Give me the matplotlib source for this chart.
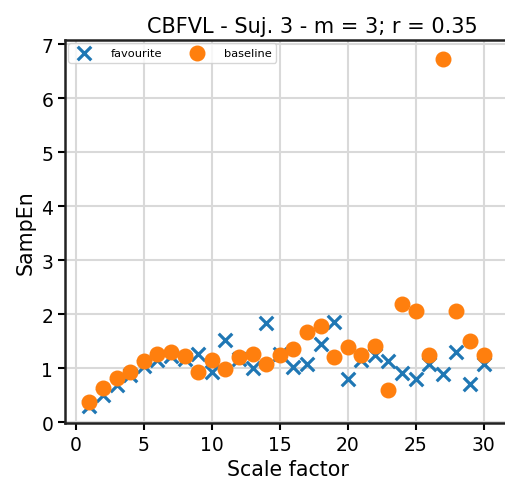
import matplotlib
matplotlib.use("Agg")
import matplotlib.pyplot as plt

scale = list(range(1, 31))
favourite = [0.30, 0.50, 0.69, 0.87, 1.04, 1.15, 1.23, 1.17, 1.26, 0.94,
             1.52, 1.17, 1.00, 1.85, 1.26, 1.02, 1.09, 1.46, 1.86, 0.80,
             1.15, 1.25, 1.14, 0.91, 0.80, 1.08, 0.89, 1.30, 0.72, 1.08]
baseline = [0.38, 0.63, 0.83, 0.94, 1.13, 1.26, 1.31, 1.23, 0.94, 1.16,
            0.99, 1.22, 1.26, 1.09, 1.25, 1.36, 1.67, 1.79, 1.22, 1.39,
            1.25, 1.42, 0.60, 2.19, 2.07, 1.25, 6.73, 2.07, 1.50, 1.25]

fig = plt.figure(figsize=(5.06, 4.89), dpi=100)
# axes runs just past the right edge, as in the original crop
ax = fig.add_axes([0.1285, 0.133, 0.881, 0.783])

ax.scatter(scale, favourite, marker="x", s=95, linewidths=2.3,
           color="#1f77b4", label="favourite", zorder=3)
ax.scatter(scale, baseline, marker="o", s=110, color="#ff7f0e",
           label="baseline", zorder=3)

ax.set_xlim(-0.8, 32.0)
ax.set_ylim(-0.01, 7.08)
ax.set_xticks([0, 5, 10, 15, 20, 25, 30])
ax.set_yticks(range(8))
ax.grid(True, color="#d9d9d9", lw=1.5, zorder=0)
ax.set_axisbelow(True)
for sp in ax.spines.values():
    sp.set_linewidth(1.8)
    sp.set_color("#222222")
ax.tick_params(labelsize=13.5, width=1.5, length=5)
ax.set_xlabel("Scale factor", fontsize=14.8)
ax.set_ylabel("SampEn", fontsize=14.8)
# title sat centred on the (wider) original figure, not on the axes
ax.set_title("CBFVL - Suj. 3 - m = 3; r = 0.35", fontsize=15, x=0.554)
ax.legend(loc="upper left", ncol=2, fontsize=8.2, columnspacing=2.1,
          handletextpad=1.3, borderaxespad=0.3, edgecolor="#cccccc")

fig.savefig("out.png", dpi=100)
